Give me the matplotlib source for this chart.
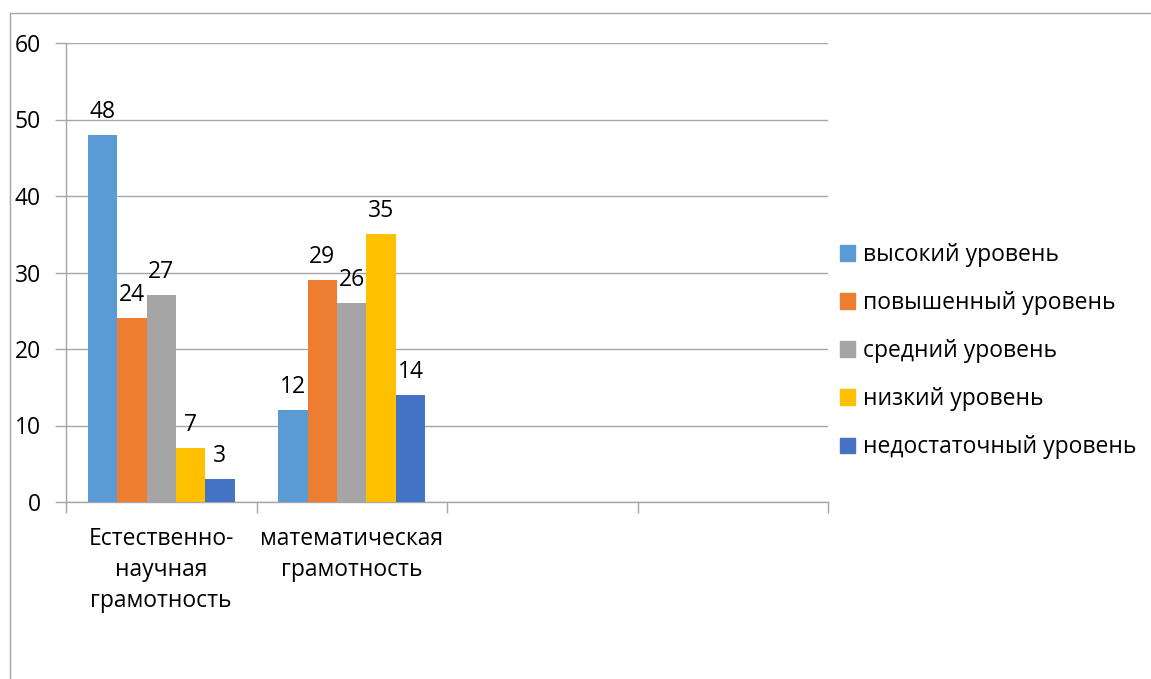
import numpy as np
import matplotlib
matplotlib.use('Agg')
import matplotlib.pyplot as plt
from matplotlib.lines import Line2D
from matplotlib.patches import Patch

plt.rcParams['font.family'] = ['Open Sans', 'DejaVu Sans']

# Data
categories = ['Естественно-\nнаучная\nграмотность', 'математическая\nграмотность', '', '']
series = ['высокий уровень', 'повышенный уровень', 'средний уровень',
          'низкий уровень', 'недостаточный уровень']
values = {
    'высокий уровень': [48, 12],
    'повышенный уровень': [24, 29],
    'средний уровень': [27, 26],
    'низкий уровень': [7, 35],
    'недостаточный уровень': [3, 14],
}
colors = ['#5B9BD5', '#ED7D31', '#A5A5A5', '#FFC000', '#4472C4']
fs = 16.5

fig = plt.figure(figsize=(11.51, 6.79), dpi=100)
ax = fig.add_axes([66 / 1151, 1 - 502 / 679, (828 - 66) / 1151, (502 - 43) / 679])

n = len(series)
bw = 0.154
x = np.arange(len(categories))
for i, (name, col) in enumerate(zip(series, colors)):
    vals = values[name]
    xs = x[:len(vals)] + (i - (n - 1) / 2) * bw
    bars = ax.bar(xs, vals, width=bw, color=col, zorder=3, label=name)
    for b, v in zip(bars, vals):
        ax.annotate(str(v), (b.get_x() + b.get_width() / 2, v),
                    xytext=(0, 8), textcoords='offset points',
                    ha='center', va='bottom', fontsize=fs, color='#000000')

ax.set_xlim(-0.5, len(categories) - 0.5)
ax.set_ylim(0, 60)
ax.set_yticks(range(0, 61, 10))
ax.yaxis.grid(True, color='#A6A6A6', linewidth=1, zorder=0)

ax.set_xticks(x)
ax.set_xticklabels(categories, fontsize=fs, linespacing=1.38)
ax.set_xticks(np.arange(-0.5, len(categories), 1), minor=True)
ax.tick_params(axis='x', which='major', length=0, pad=18)
ax.tick_params(axis='x', which='minor', length=8, color='#A6A6A6', width=1)
ax.tick_params(axis='y', length=8, color='#A6A6A6', width=1, labelsize=fs, pad=10)

for s in ['top', 'right']:
    ax.spines[s].set_visible(False)
for s in ['left', 'bottom']:
    ax.spines[s].set_color('#A6A6A6')
    ax.spines[s].set_linewidth(1)

handles = [Patch(color=c) for c in colors]
leg = fig.legend(handles, series, loc='upper left', bbox_to_anchor=(840 / 1151, 1 - 243 / 679),
                 frameon=False, fontsize=fs, handlelength=0.65, handleheight=0.65,
                 handletextpad=0.35, labelspacing=1.05, borderaxespad=0, borderpad=0)

# outer chart border (only left and top visible in the crop)
fig.add_artist(Line2D([10 / 1151, 10 / 1151], [0, 1 - 13 / 679], transform=fig.transFigure,
                      color='#A6A6A6', linewidth=1))
fig.add_artist(Line2D([10 / 1151, 1], [1 - 13 / 679, 1 - 13 / 679], transform=fig.transFigure,
                      color='#A6A6A6', linewidth=1))

fig.savefig('out.png', dpi=100)
